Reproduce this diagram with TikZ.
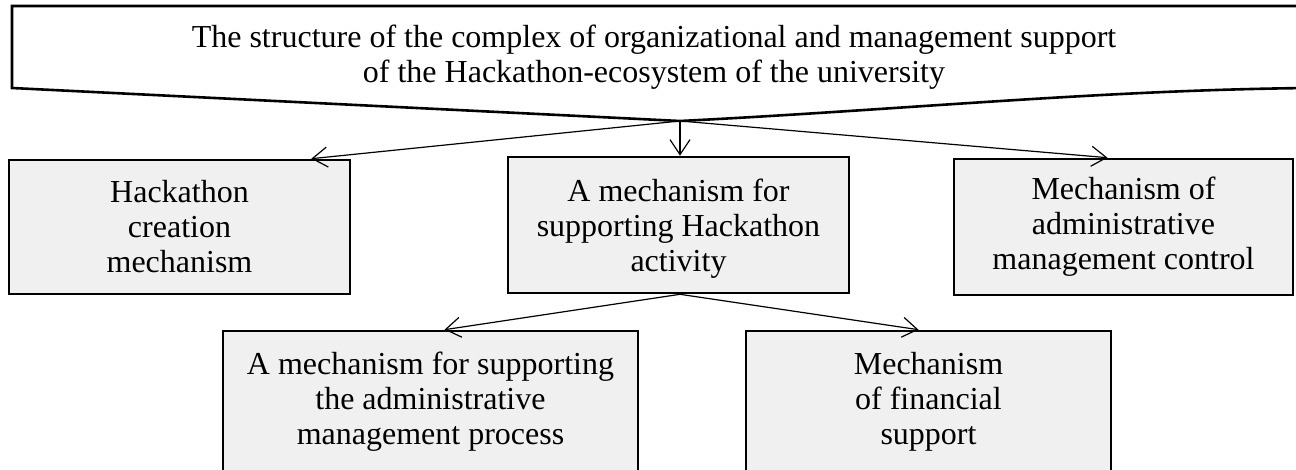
\documentclass[tikz,border=0pt]{standalone}
\usepackage{fontspec}
\setmainfont{Liberation Serif}
\usetikzlibrary{arrows.meta,calc}
\definecolor{boxfill}{HTML}{F0F0F0}
\tikzset{
  mechbox/.style={draw=black, line width=2.6pt, fill=boxfill, inner sep=0pt,
    align=center, font=\fontsize{32}{35}\selectfont},
  conn/.style={line width=1.2pt, -{Straight Barb[length=15pt,width=20pt,line width=1.2pt]}},
  docshape/.style={draw=black, line width=2.6pt, fill=white}
}
\begin{document}
\begin{tikzpicture}[x=1pt,y=1pt]
\useasboundingbox (0,0) rectangle (1296,-470);
\clip (0,0) rectangle (1296,-470);
% document shape
\draw[docshape] (12,-6) -- (1310,-6) -- (1310,-88) .. controls (1100,-90) and (900,-110) .. (680,-121) -- (12,-88) -- cycle;
\node[font=\fontsize{32}{35}\selectfont, align=center] (title) at (654,-57)
  {The structure of the complex of organizational and management support\\of the Hackathon-ecosystem of the university};
\coordinate (docbot) at (680,-121);
% boxes
\node[mechbox, minimum width=341pt, minimum height=134pt] (b1) at (179.5,-227) {Hackathon\\creation\\mechanism};
\node[mechbox, minimum width=341pt, minimum height=136pt] (b2) at (678.5,-225) {\rule{0pt}{30pt}A mechanism for\\supporting Hackathon\\activity};
\node[mechbox, minimum width=339pt, minimum height=136pt] (b3) at (1123.5,-227) {Mechanism of\\administrative\\management control};
\node[mechbox, minimum width=415pt, minimum height=142pt] (b4) at (430.5,-402) {A mechanism for supporting\\the administrative\\management process};
\node[mechbox, minimum width=365pt, minimum height=142pt] (b5) at (928.5,-402) {Mechanism\\of financial\\support};
% connectors
\draw[conn] (docbot) -- ($(b1.north east)+(-40,0)$);
\draw[conn] (docbot) -- (docbot |- b2.north);
\draw[conn] (docbot) -- ($(b3.north)+(-16,0)$);
\coordinate (b2bot) at (b2.south -| docbot);
\draw[conn] (b2bot) -- ($(b4.north)+(14,0)$);
\draw[conn] (b2bot) -- ($(b5.north)+(-10,0)$);
\end{tikzpicture}
\end{document}
